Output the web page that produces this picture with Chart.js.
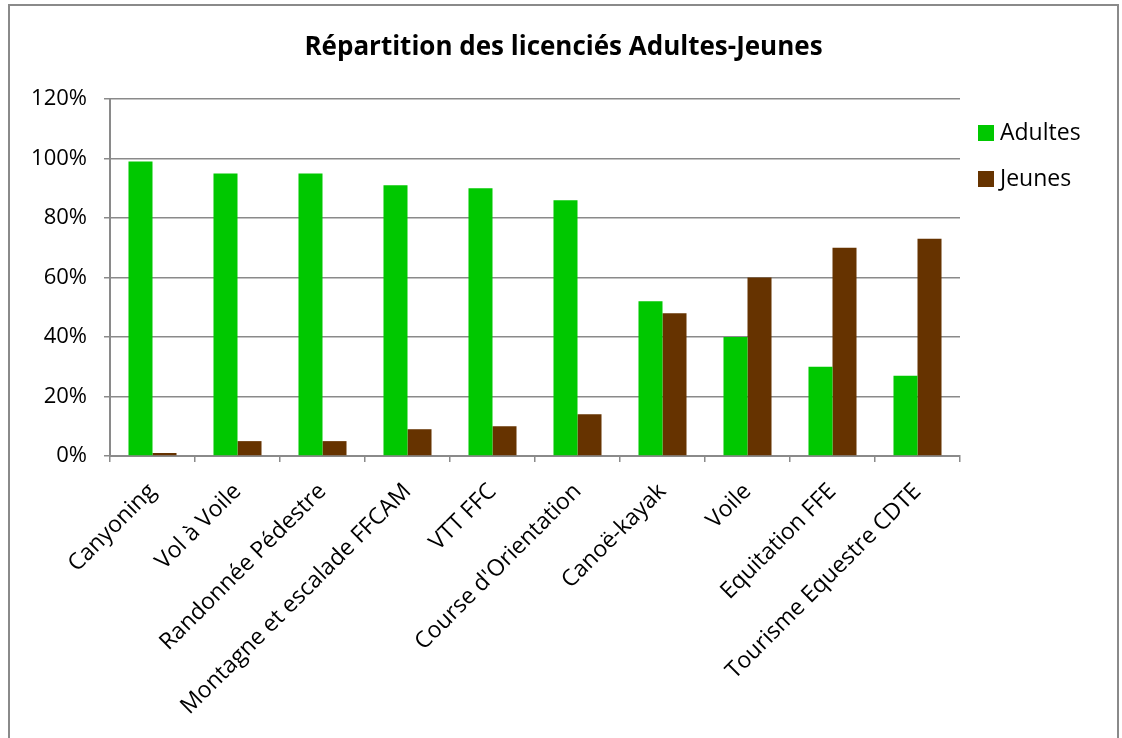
<!DOCTYPE html>
<html>
<head>
<meta charset="utf-8">
<script src="https://cdn.jsdelivr.net/npm/chart.js@4"></script>
<style>
  body { margin: 0; background: #fff; }
  #wrap { position: relative; width: 1122px; height: 738px; overflow: hidden; font-family: "Open Sans", sans-serif; }
  #frame { position: absolute; left: 8px; top: 4px; width: 1107px; height: 800px; border: 2px solid #8a8a8a; }
  #title { position: absolute; left: 8px; width: 1111px; top: 27px; text-align: center; font-weight: bold; font-size: 26px; letter-spacing: 0; color: #000; }
  #legend { position: absolute; left: 978px; top: 115px; font-size: 23px; color: #000; }
  #legend div { height: 46px; display: flex; align-items: flex-start; }
  #legend span.box { display: inline-block; width: 16px; height: 16px; margin: 10px 6px 0 0; }
  canvas { position: absolute; left: 0; top: 0; }
</style>
</head>
<body>
<div id="wrap">
  <div id="frame"></div>
  <canvas id="chart" width="1122" height="738"></canvas>
  <div id="title">Répartition des licenciés Adultes-Jeunes</div>
  <div id="legend"></div>
</div>
<script>
const categories = ['Canyoning', 'Vol à Voile', 'Randonnée Pédestre', 'Montagne et escalade FFCAM', 'VTT FFC', "Course d'Orientation", 'Canoë-kayak', 'Voile', 'Equitation FFE', 'Tourisme Equestre CDTE'];
const adultes = [99, 95, 95, 91, 90, 86, 52, 40, 30, 27];
const jeunes = [1, 5, 5, 9, 10, 14, 48, 60, 70, 73];
const seriesNames = ['Adultes', 'Jeunes'];
const seriesColors = ['#00c800', '#663300'];

const legend = document.getElementById('legend');
seriesNames.forEach((name, i) => {
  const row = document.createElement('div');
  row.innerHTML = '<span class="box" style="background:' + seriesColors[i] + '"></span>' + name;
  legend.appendChild(row);
});

const ctx = document.getElementById('chart');
new Chart(ctx, {
  type: 'bar',
  data: {
    labels: categories,
    datasets: [
      { label: seriesNames[0], data: adultes, backgroundColor: seriesColors[0] },
      { label: seriesNames[1], data: jeunes, backgroundColor: seriesColors[1] }
    ]
  },
  options: {
    responsive: false,
    animation: false,
    layout: { padding: { top: 99, right: 162, left: 0, bottom: 0 } },
    datasets: { bar: { categoryPercentage: 0.565, barPercentage: 1 } },
    plugins: { legend: { display: false }, title: { display: false }, tooltip: { enabled: false } },
    scales: {
      x: {
        afterFit: (s) => { s.height = 282; },
        grid: { offset: true, drawOnChartArea: false, drawTicks: true, tickLength: 6, color: '#8a8a8a', lineWidth: 1.5 },
        border: { color: '#8a8a8a', width: 2 },
        ticks: { minRotation: 45, maxRotation: 45, autoSkip: false, color: '#000', font: { family: 'Open Sans', size: 23 }, padding: 16 }
      },
      y: {
        min: 0,
        max: 120,
        afterFit: (s) => { s.width = 110; },
        grid: { color: '#8a8a8a', lineWidth: 1.5, tickLength: 6 },
        border: { color: '#8a8a8a', width: 2 },
        ticks: { stepSize: 20, color: '#000', font: { family: 'Open Sans', size: 22 }, padding: 17, callback: (v) => v + '%' }
      }
    }
  }
});
</script>
</body>
</html>
